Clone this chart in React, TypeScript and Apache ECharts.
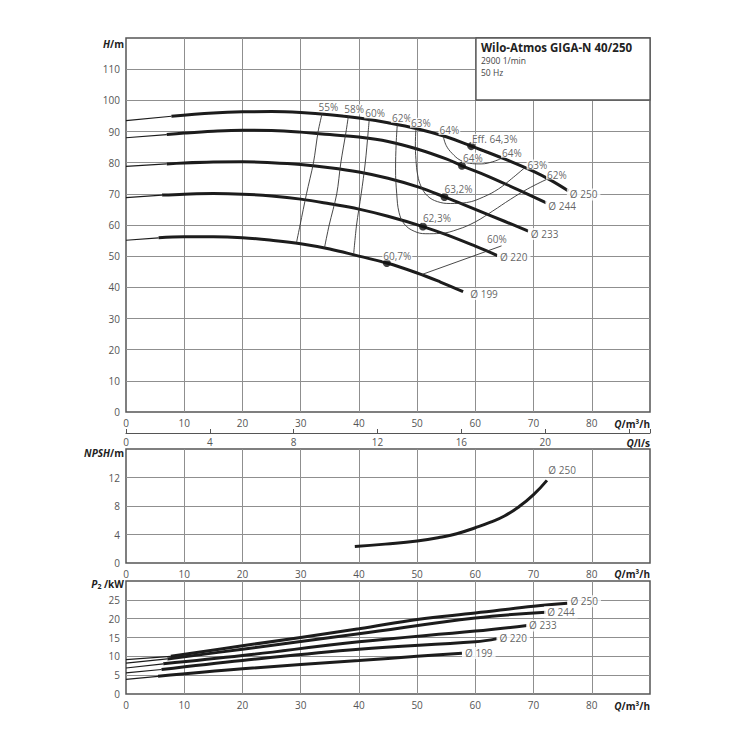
import React, { useEffect, useRef } from "react";
import * as echarts from "echarts";

const FONT = "'Open Sans', 'Noto Sans', 'DejaVu Sans', sans-serif";
const LINE = "#1c1c1c";

// ---------- Q-H curves (Q m³/h, H m) ----------
const h250Thin = [[0, 93.5], [7.8, 94.9]];
const h250 = [[7.8, 94.9], [15, 95.9], [20, 96.3], [25, 96.4], [30, 96.1], [35, 95.4], [40, 94.3], [45, 92.8], [50, 90.9], [55, 88.3], [59.3, 85.3], [65, 81.2], [70, 77.2], [73, 74.3], [76, 70.9]];
const h244Thin = [[0, 88.0], [7, 89.0]];
const h244 = [[7, 89.0], [10, 89.5], [15, 90.1], [20, 90.4], [25, 90.3], [30, 89.8], [35, 89.0], [40, 88.2], [45, 86.8], [50, 84.4], [55, 81.2], [57.7, 79.0], [62, 75.8], [67, 71.6], [72.2, 67.1]];
const h233Thin = [[0, 78.8], [7, 79.6]];
const h233 = [[7, 79.6], [10, 79.9], [15, 80.2], [20, 80.3], [25, 80.0], [30, 79.4], [35, 78.4], [40, 77.0], [45, 75.0], [50, 72.3], [54.7, 69.0], [60, 65.0], [65, 61.2], [69.1, 58.0]];
const h220Thin = [[0, 68.8], [6.2, 69.6]];
const h220 = [[6.2, 69.6], [10, 69.9], [15, 70.1], [20, 69.9], [25, 69.3], [30, 68.3], [35, 66.8], [40, 65.1], [45, 62.8], [51.0, 59.5], [55, 56.9], [60, 53.2], [63.8, 50.2]];
const h199Thin = [[0, 55.1], [5.6, 55.9]];
const h199 = [[5.6, 55.9], [10, 56.2], [15, 56.2], [20, 55.9], [25, 55.1], [30, 54.0], [35, 52.3], [40, 50.0], [44.8, 47.8], [50, 44.6], [54, 41.7], [57.9, 38.6]];

// ---------- iso-efficiency lines ----------
const eff55 = [[33.7, 95.9], [33.0, 90], [32.2, 80], [31.0, 70], [29.9, 60], [29.3, 54.5]];
const eff58 = [[38.2, 95.0], [37.8, 90], [36.9, 80], [36.2, 70], [34.9, 60], [34.1, 52.8]];
const eff60a = [[41.8, 94.4], [41.6, 90], [41.1, 80], [40.4, 70], [39.6, 60], [39.1, 50.6]];
const eff60b = [[50.8, 44.1], [64.5, 53.3]];
const eff62 = [[46.6, 92.4], [46.4, 86], [46.3, 78], [46.5, 70], [46.9, 64], [47.8, 60.3], [49.5, 58.0], [51.5, 57.2], [54, 57.3], [57, 58.6], [60, 61.0], [63, 64.5], [66, 68.2], [69, 71.6], [72.3, 74.7]];
const eff63 = [[49.8, 90.9], [49.7, 86], [49.8, 81], [50.1, 76], [50.7, 72.3], [51.8, 69.3], [53.5, 67.5], [55.7, 66.9], [58.5, 67.2], [61.4, 69.0], [64, 71.6], [66.2, 74.8], [68.5, 78.4]];
const eff64 = [[54.5, 88.4], [55.0, 85.5], [56.0, 83.0], [57.4, 80.8], [59, 79.8], [61, 79.6], [63, 80.3], [64.5, 81.4]];

// best-efficiency points
const bepPoints = [[59.3, 85.3], [57.7, 79.0], [54.7, 69.0], [51.0, 59.5], [44.8, 47.8]];

// labels in H chart [Q, H, text]
const effLabels = [
  [34.76, 98.0, "55%"], [39.18, 97.1, "58%"], [42.78, 95.8, "60%"], [47.37, 94.4, "62%"],
  [50.64, 92.8, "63%"], [55.55, 90.5, "64%"], [63.32, 87.7, "Eff. 64,3%"], [66.27, 83.2, "64%"],
  [59.57, 81.6, "64%"], [70.67, 79.4, "63%"], [74.0, 76.2, "62%"], [57.1, 71.7, "63,2%"],
  [53.4, 62.2, "62,3%"], [63.7, 55.5, "60%"], [46.6, 50.2, "60,7%"],
];
const hDiaLabels = [
  [78.6, 69.8, "Ø 250"], [74.9, 66.2, "Ø 244"], [71.9, 57.1, "Ø 233"], [66.6, 49.6, "Ø 220"], [61.5, 37.9, "Ø 199"],
];

// ---------- NPSH ----------
const npsh250 = [[39.3, 2.3], [44.5, 2.65], [50, 3.1], [54.3, 3.65], [56.8, 4.1], [60, 4.95], [62.5, 5.7], [65, 6.6], [67.5, 7.9], [70, 9.6], [72.3, 11.6]];
const npshLabels = [[74.9, 13.0, "Ø 250"]];

// ---------- P2 ----------
const p250Thin = [[0, 9.15], [7.7, 10.0]];
const p250 = [[7.7, 10.0], [20, 12.8], [40, 17.3], [50, 19.8], [60, 21.5], [70, 23.3], [75.8, 24.1]];
const p244Thin = [[0, 8.2], [7.1, 9.3]];
const p244 = [[7.1, 9.3], [20, 11.9], [40, 16.0], [60, 20.2], [72.1, 21.7]];
const p233Thin = [[0, 6.9], [6.4, 8.0]];
const p233 = [[6.4, 8.0], [20, 10.2], [40, 13.85], [60, 16.7], [68.9, 18.2]];
const p220Thin = [[0, 5.6], [6.1, 6.5]];
const p220 = [[6.1, 6.5], [20, 8.9], [40, 11.9], [60, 13.85], [63.8, 14.7]];
const p199Thin = [[0, 3.9], [5.5, 4.7]];
const p199 = [[5.5, 4.7], [20, 6.7], [40, 8.9], [50, 10.0], [57.7, 10.8]];
const pLabels = [[78.7, 24.6, "Ø 250"], [74.7, 21.7, "Ø 244"], [71.6, 18.2, "Ø 233"], [66.5, 14.8, "Ø 220"], [60.6, 10.9, "Ø 199"]];

const GRID_COLOR = "#8f8f8f";
const BORDER = "#555";
const TICK_COLOR = "#555";

function line(data: number[][], xi: number, yi: number, width: number, color = LINE, smooth: number | boolean = 0.4) {
  return {
    type: "line", xAxisIndex: xi, yAxisIndex: yi, data, symbol: "none", smooth,
    lineStyle: { width, color, cap: "butt" }, silent: true, z: 3,
  };
}

function labels(data: any[], xi: number, yi: number, fontSize: number, pad: number[]) {
  return {
    type: "scatter", xAxisIndex: xi, yAxisIndex: yi, data, symbolSize: 1,
    itemStyle: { color: "rgba(255,255,255,0)" }, z: 8, silent: true,
    label: {
      show: true, position: [0.5, 0.5], align: "center", verticalAlign: "middle",
      formatter: (p: any) => p.data[2],
      color: "#3a3a3a", fontSize, fontFamily: FONT, backgroundColor: "#fff", padding: pad,
    },
  };
}

function xAxis(gridIndex: number) {
  return {
    type: "value", gridIndex, min: 0, max: 90, interval: 10,
    axisLine: { show: false }, axisTick: { show: false },
    axisLabel: {
      color: TICK_COLOR, fontSize: 10, fontFamily: FONT, margin: 6,
      formatter: (v: number) => (v >= 90 ? "" : String(v)),
    },
    splitLine: { show: true, showMinLine: false, showMaxLine: false, lineStyle: { color: GRID_COLOR, width: 1 } },
  };
}

function yAxis(gridIndex: number, max: number, interval: number) {
  return {
    type: "value", gridIndex, min: 0, max, interval,
    axisLine: { show: false }, axisTick: { show: false },
    axisLabel: {
      color: TICK_COLOR, fontSize: 10, fontFamily: FONT, margin: 6,
      formatter: (v: number) => (v >= max ? "" : String(v)),
    },
    splitLine: { show: true, showMinLine: false, showMaxLine: false, lineStyle: { color: GRID_COLOR, width: 1 } },
  };
}

function axisTitle(x: number, y: number, text: string) {
  return {
    type: "text", x, y, z: 100,
    style: {
      text, fill: "#222", fontSize: 10, fontWeight: "bold", fontFamily: FONT,
      textAlign: "right", align: "right", textVerticalAlign: "middle", verticalAlign: "middle",
      rich: {
        i: { fontStyle: "italic", fontWeight: "bold", fontSize: 10, fontFamily: FONT, fill: "#222" },
        n: { fontWeight: "bold", fontSize: 10, fontFamily: FONT, fill: "#222" },
        s: { fontWeight: "bold", fontSize: 7, fontFamily: FONT, fill: "#222", verticalAlign: "bottom", padding: [5, 0, 0, 0] },
      },
    },
  };
}

export default function App() {
  const ref = useRef<HTMLDivElement>(null);

  useEffect(() => {
    if (!ref.current) return;
    const chart = echarts.init(ref.current, undefined, { renderer: "svg" });
    const gridBase = { left: 126, width: 524, show: true, borderColor: BORDER, borderWidth: 1.5, backgroundColor: "#fff" };

    const option: any = {
      animation: false,
      backgroundColor: "#fff",
      textStyle: { fontFamily: FONT },
      grid: [
        { ...gridBase, top: 38, height: 374 },
        { ...gridBase, top: 449, height: 114 },
        { ...gridBase, top: 581, height: 113 },
      ],
      xAxis: [
        xAxis(0),
        {
          type: "value", gridIndex: 0, position: "bottom", offset: 21, min: 0, max: 25, interval: 4,
          axisLine: { show: true, lineStyle: { color: BORDER, width: 1.2 } },
          axisTick: { show: true, inside: true, length: 4, lineStyle: { color: BORDER } },
          axisLabel: {
            color: TICK_COLOR, fontSize: 10, fontFamily: FONT, margin: 4,
            formatter: (v: number) => (v > 20 ? "" : String(v)),
          },
          splitLine: { show: false },
        },
        xAxis(1),
        xAxis(2),
      ],
      yAxis: [yAxis(0, 120, 10), yAxis(1, 16, 4), yAxis(2, 30, 5)],
      graphic: [
        {
          type: "rect", z: 100, shape: { x: 476, y: 38, width: 174, height: 62 },
          style: { fill: "#fff", stroke: BORDER, lineWidth: 1.3 },
        },
        {
          type: "text", x: 481, y: 47, z: 101,
          style: { text: "Wilo-Atmos GIGA-N 40/250", fill: "#222", fontSize: 11.5, fontWeight: "bold", fontFamily: FONT, textVerticalAlign: "middle", verticalAlign: "middle" },
        },
        {
          type: "text", x: 481, y: 60, z: 101,
          style: { text: "2900 1/min", fill: "#444", fontSize: 8.5, fontFamily: FONT, textVerticalAlign: "middle", verticalAlign: "middle" },
        },
        {
          type: "text", x: 481, y: 72, z: 101,
          style: { text: "50 Hz", fill: "#444", fontSize: 8.5, fontFamily: FONT, textVerticalAlign: "middle", verticalAlign: "middle" },
        },
        axisTitle(124, 44, "{i|H}{n|/m}"),
        axisTitle(650, 424, "{i|Q}{n|/m³/h}"),
        axisTitle(650, 443, "{i|Q}{n|/l/s}"),
        axisTitle(124, 453, "{i|NPSH}{n|/m}"),
        axisTitle(650, 574, "{i|Q}{n|/m³/h}"),
        axisTitle(124, 584, "{i|P}{s|2}{n| /kW}"),
        axisTitle(650, 706, "{i|Q}{n|/m³/h}"),
      ],
      series: [
        // H curves
        line(h250Thin, 0, 0, 1.2, LINE, false), line(h250, 0, 0, 3),
        line(h244Thin, 0, 0, 1.2, LINE, false), line(h244, 0, 0, 3),
        line(h233Thin, 0, 0, 1.2, LINE, false), line(h233, 0, 0, 3),
        line(h220Thin, 0, 0, 1.2, LINE, false), line(h220, 0, 0, 3),
        line(h199Thin, 0, 0, 1.2, LINE, false), line(h199, 0, 0, 3),
        // iso-efficiency
        line(eff55, 0, 0, 0.9, "#333", 0.3),
        line(eff58, 0, 0, 0.9, "#333", 0.3),
        line(eff60a, 0, 0, 0.9, "#333", 0.3),
        line(eff60b, 0, 0, 0.9, "#333", false),
        line(eff62, 0, 0, 0.9, "#333", 0.4),
        line(eff63, 0, 0, 0.9, "#333", 0.4),
        line(eff64, 0, 0, 0.9, "#333", 0.4),
        {
          type: "scatter", xAxisIndex: 0, yAxisIndex: 0, data: bepPoints, symbolSize: 8,
          itemStyle: { color: "#111" }, z: 6, silent: true,
        },
        labels(effLabels, 0, 0, 10, [0, 1]),
        labels(hDiaLabels, 0, 0, 10, [1, 3]),
        // NPSH
        line(npsh250, 2, 1, 3, LINE, 0.5),
        labels(npshLabels, 2, 1, 10, [1, 3]),
        // P2
        line(p250Thin, 3, 2, 1.2, LINE, false), line(p250, 3, 2, 3),
        line(p244Thin, 3, 2, 1.2, LINE, false), line(p244, 3, 2, 3),
        line(p233Thin, 3, 2, 1.2, LINE, false), line(p233, 3, 2, 3),
        line(p220Thin, 3, 2, 1.2, LINE, false), line(p220, 3, 2, 3),
        line(p199Thin, 3, 2, 1.2, LINE, false), line(p199, 3, 2, 3),
        labels(pLabels, 3, 2, 10, [1, 3]),
      ],
    };
    chart.setOption(option);
    return () => chart.dispose();
  }, []);

  return (
    <div
      ref={ref}
      style={{ position: "absolute", left: 0, top: 0, width: 750, height: 750, background: "#fff" }}
    />
  );
}
